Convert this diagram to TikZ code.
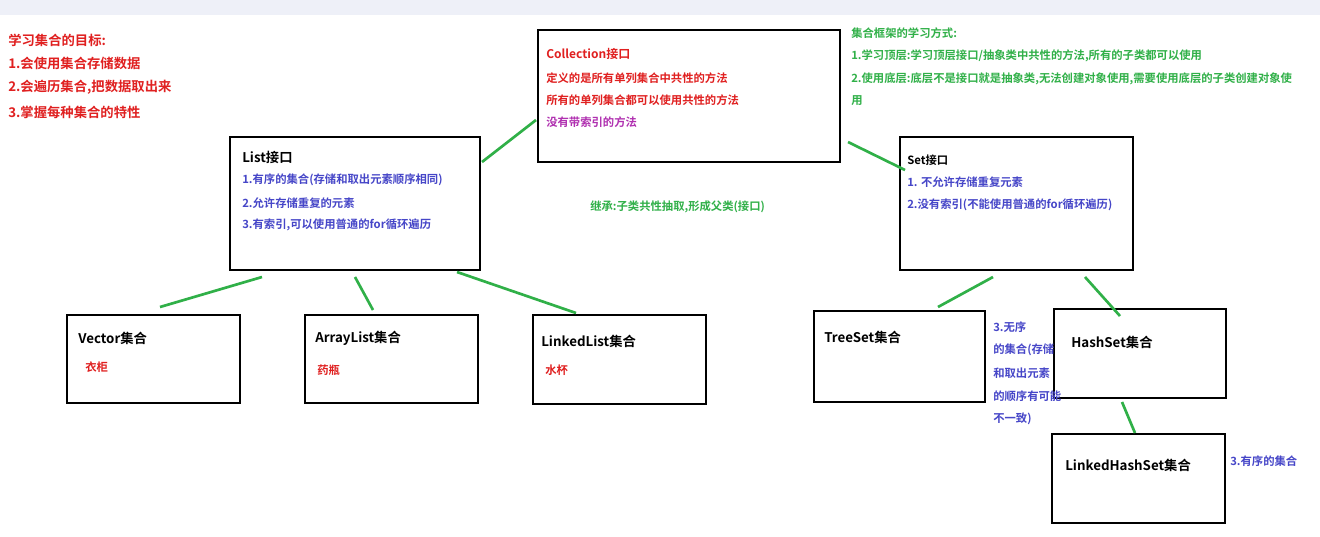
\documentclass[tikz,border=0pt]{standalone}
\usepackage{fontspec}
\setmainfont{Noto Sans CJK SC}[BoldFont={Noto Sans CJK SC Bold}]
\definecolor{cred}{RGB}{224,32,32}
\definecolor{cblu}{RGB}{70,70,200}
\definecolor{cgrn}{RGB}{48,176,72}
\definecolor{cpur}{RGB}{176,48,176}
\definecolor{cstrip}{RGB}{238,240,248}
\begin{document}
\begin{tikzpicture}[x=0.75pt,y=-0.75pt,
  box/.style={draw=black,line width=2pt},
  link/.style={draw=cgrn,line width=2pt},
  txt/.style={anchor=west,inner sep=0pt,font=\bfseries\fontsize{8.5}{10}\selectfont},
  red/.style={txt,text=cred},
  blu/.style={txt,text=cblu},
  grn/.style={txt,text=cgrn},
  pur/.style={txt,text=cpur},
  ttl/.style={txt,font=\bfseries\fontsize{10}{12}\selectfont}]
\useasboundingbox (0,0) rectangle (1320,536);
\fill[white] (0,0) rectangle (1320,536);
\fill[cstrip] (0,0) rectangle (1320,15);
% boxes
\draw[box] (538,30) rectangle (840,162); \coordinate (colL) at (536,120); \coordinate (colR) at (848,142);
\draw[box] (230,137) rectangle (480,270);
\draw[box] (900,137) rectangle (1133,270);
\draw[box] (67,315) rectangle (240,403);
\draw[box] (305,315) rectangle (478,403);
\draw[box] (533,315) rectangle (706,404);
\draw[box] (814,311) rectangle (985,402);
\draw[box] (1054,309) rectangle (1226,398);
\draw[box] (1052,434) rectangle (1225,523);
% connectors
\coordinate (a1) at (482,162); \coordinate (a2) at (905,170);
\draw[link] (a1) -- (colL);
\draw[link] (colR) -- (a2);
\coordinate (b1) at (262,277); \coordinate (b2) at (160,307);
\coordinate (c1) at (355,277); \coordinate (c2) at (373,310);
\coordinate (d1) at (457,272); \coordinate (d2) at (576,313);
\coordinate (e1) at (993,277); \coordinate (e2) at (938,307);
\coordinate (f1) at (1085,277); \coordinate (f2) at (1120,316);
\coordinate (g1) at (1122,402); \coordinate (g2) at (1135,433);
\draw[link] (b1)--(b2); \draw[link] (c1)--(c2); \draw[link] (d1)--(d2);
\draw[link] (e1)--(e2); \draw[link] (f1)--(f2); \draw[link] (g1)--(g2);
% top-left
\node[red,font=\bfseries\fontsize{10}{12}\selectfont] (t1) at (8,40) {学习集合的目标:};
\node[red,font=\bfseries\fontsize{10}{12}\selectfont] (t2) at (8,63) {1.会使用集合存储数据};
\node[red,font=\bfseries\fontsize{10}{12}\selectfont] (t3) at (8,87) {2.会遍历集合,把数据取出来};
\node[red,font=\bfseries\fontsize{10}{12}\selectfont] (t4) at (8,112) {3.掌握每种集合的特性};
% collection
\node[red,font=\bfseries\fontsize{9}{11}\selectfont] (c0) at (546,54) {Collection接口};
\node[red] (cA) at (546,78) {定义的是所有单列集合中共性的方法};
\node[red] (cB) at (546,100) {所有的单列集合都可以使用共性的方法};
\node[pur] (cC) at (546,122) {没有带索引的方法};
% right top green
\node[grn] (g0) at (851,33) {集合框架的学习方式:};
\node[grn] (gA) at (851,56) {1.学习顶层:学习顶层接口/抽象类中共性的方法,所有的子类都可以使用};
\node[grn] (gB) at (851,79) {2.使用底层:底层不是接口就是抽象类,无法创建对象使用,需要使用底层的子类创建对象使};
\node[grn] (gC) at (851,101) {用};
\node[grn] (mid) at (590,207) {继承:子类共性抽取,形成父类(接口)};
% list
\node[ttl] (l0) at (242,157) {List接口};
\node[blu] (lA) at (242,180) {1.有序的集合(存储和取出元素顺序相同)};
\node[blu] (lB) at (242,203) {2.允许存储重复的元素};
\node[blu] (lC) at (242,225) {3.有索引,可以使用普通的for循环遍历};
% set
\node[txt] (s0) at (907,160) {Set接口};
\node[blu] (sA) at (907,182) {1. 不允许存储重复元素};
\node[blu] (sB) at (907,205) {2.没有索引(不能使用普通的for循环遍历)};
% leaves
\node[ttl] (v0) at (78,338) {Vector集合};
\node[red] (v1) at (85,367) {衣柜};
\node[ttl] (r0) at (315,338) {ArrayList集合};
\node[red] (r1) at (317,370) {药瓶};
\node[ttl] (k0) at (541,341) {LinkedList集合};
\node[red] (k1) at (545,370) {水杯};
\node[ttl] (ts) at (824,337) {TreeSet集合};
\node[ttl] (hs) at (1071,342) {HashSet集合};
\node[ttl] (lh) at (1065,465) {LinkedHashSet集合};
\node[blu] (n1) at (993,327) {3.无序};
\node[blu] (n2) at (993,350) {的集合(存储};
\node[blu] (n3) at (993,373) {和取出元素};
\node[blu] (n4) at (993,396) {的顺序有可能};
\node[blu] (n5) at (993,419) {不一致)};
\node[blu] (n6) at (1230,461) {3.有序的集合};
\end{tikzpicture}
\end{document}
